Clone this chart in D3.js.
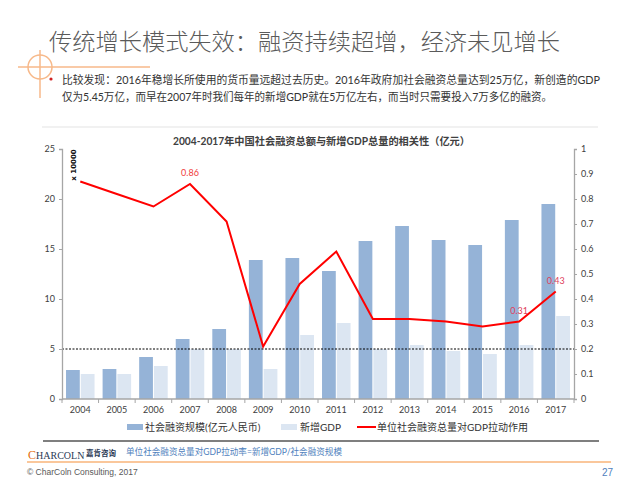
<!DOCTYPE html>
<html>
<head>
<meta charset="utf-8">
<script src="https://cdn.jsdelivr.net/npm/d3@7"></script>
<style>
html,body{margin:0;padding:0;background:#fff;}
svg{display:block;}
</style>
</head>
<body>
<div id="chart"></div>
<script>
// ---- data ----
const years = ["2004","2005","2006","2007","2008","2009","2010","2011","2012","2013","2014","2015","2016","2017"];
const financing = [2.9, 3.0, 4.2, 6.0, 7.0, 13.9, 14.1, 12.8, 15.8, 17.3, 15.9, 15.4, 17.9, 19.5];
const newGDP = [2.5, 2.5, 3.3, 5.0, 5.0, 3.0, 6.4, 7.6, 5.0, 5.4, 4.8, 4.5, 5.4, 8.3];
const ratio = [0.87, 0.82, 0.77, 0.86, 0.71, 0.21, 0.46, 0.59, 0.32, 0.32, 0.31, 0.29, 0.31, 0.43];
const leftTicks = [0, 5, 10, 15, 20, 25];
const rightTicks = [0, 0.1, 0.2, 0.3, 0.4, 0.5, 0.6, 0.7, 0.8, 0.9, 1];
const labelledYears = ["2007", "2016", "2017"];
const refLine = 5;
const seriesNames = ["社会融资规模(亿元人民币)", "新增GDP", "单位社会融资总量对GDP拉动作用"];
const titleText = "传统增长模式失效：融资持续超增，经济未见增长";
const bulletLines = [
  "比较发现：2016年稳增长所使用的货币量远超过去历史。2016年政府加社会融资总量达到25万亿，新创造的GDP",
  "仅为5.45万亿，而早在2007年时我们每年的新增GDP就在5万亿左右，而当时只需要投入7万多亿的融资。"
];
const chartTitle = "2004-2017年中国社会融资总额与新增GDP总量的相关性（亿元）";
const unitLabel = "x 10000";
const formulaText = "单位社会融资总量对GDP拉动率=新增GDP/社会融资规模";

const CJK = "'Noto Sans CJK SC', 'Noto Sans', sans-serif";
const NUM = "Lato, 'Noto Sans CJK SC', sans-serif";

const svg = d3.select("#chart").append("svg").attr("width", 640).attr("height", 480);

// ---- header ----
svg.append("text").attr("x", 49).attr("y", 50)
  .attr("font-family", CJK).attr("font-size", 23).attr("font-weight", 300).attr("fill", "#5a5a5a")
  .attr("textLength", 511).attr("lengthAdjust", "spacingAndGlyphs")
  .text(titleText);

// orange crosshair decoration
const deco = svg.append("g").attr("stroke", "#f7b98a").attr("fill", "none").attr("stroke-width", 1.5);
deco.append("line").attr("x1", 18).attr("x2", 150).attr("y1", 67).attr("y2", 67);
deco.append("line").attr("x1", 40).attr("x2", 40).attr("y1", 50).attr("y2", 98);
deco.append("circle").attr("cx", 40).attr("cy", 67).attr("r", 12);

svg.append("circle").attr("cx", 51).attr("cy", 79).attr("r", 1.6).attr("fill", "#d02020");
const bl = [[80, 538], [97, 490]];
bulletLines.forEach((t, i) => {
  svg.append("text").attr("x", 62).attr("y", bl[i][0]).attr("dy", "0.35em")
    .attr("font-family", NUM).attr("font-size", 11).attr("fill", "#333")
    .attr("textLength", bl[i][1]).attr("lengthAdjust", "spacingAndGlyphs")
    .text(t);
});

// faint chart frame top
svg.append("line").attr("x1", 42).attr("x2", 598).attr("y1", 127).attr("y2", 127)
  .attr("stroke", "#e3e3e3").attr("stroke-width", 1);

svg.append("text").attr("x", 173).attr("y", 141).attr("dy", "0.35em")
  .attr("font-family", NUM).attr("font-size", 10.5).attr("font-weight", "bold").attr("fill", "#404040")
  .attr("textLength", 297).attr("lengthAdjust", "spacingAndGlyphs")
  .text(chartTitle);

// ---- scales ----
const x = d3.scaleBand().domain(years).range([62, 574]).padding(0);
const yL = d3.scaleLinear().domain([0, 25]).range([399, 149]);
const yR = d3.scaleLinear().domain([0, 1]).range([399, 149]);
const bw = x.bandwidth() * 0.39;
const cx = d => x(d) + x.bandwidth() / 2;

// ---- bars ----
svg.append("g").selectAll("rect").data(years).join("rect")
  .attr("x", (d) => cx(d) - bw).attr("width", bw - 0.5)
  .attr("y", (d, i) => yL(financing[i])).attr("height", (d, i) => yL(0) - yL(financing[i]))
  .attr("fill", "#95b3d7");
svg.append("g").selectAll("rect").data(years).join("rect")
  .attr("x", (d) => cx(d) + 0.5).attr("width", bw - 0.5)
  .attr("y", (d, i) => yL(newGDP[i])).attr("height", (d, i) => yL(0) - yL(newGDP[i]))
  .attr("fill", "#dce6f2");

// reference dotted line
svg.append("line").attr("x1", 62).attr("x2", 574).attr("y1", yL(refLine)).attr("y2", yL(refLine))
  .attr("stroke", "#000").attr("stroke-width", 1).attr("stroke-dasharray", "2,1.5");

// ---- line ----
const line = d3.line().x((d, i) => cx(years[i])).y(d => yR(d));
svg.append("path").datum(ratio).attr("d", line)
  .attr("fill", "none").attr("stroke", "#ff0000").attr("stroke-width", 2).attr("stroke-linejoin", "miter");

// data labels
labelledYears.forEach(yr => {
  const i = years.indexOf(yr);
  svg.append("text").attr("x", cx(yr)).attr("y", yR(ratio[i]) - 11).attr("dy", "0.35em")
    .attr("text-anchor", "middle").attr("font-family", NUM).attr("font-size", 9)
    .attr("fill", yr === "2007" ? "#f03c3c" : "#e0405c")
    .text(d3.format(".2f")(ratio[i]));
});

// ---- axes ----
const gL = svg.append("g").attr("transform", "translate(62,0)")
  .call(d3.axisLeft(yL).tickValues(leftTicks).tickSize(3).tickPadding(4));
const gR = svg.append("g").attr("transform", "translate(574,0)")
  .call(d3.axisRight(yR).tickValues(rightTicks).tickSize(3).tickPadding(4)
    .tickFormat(d => (d === 0 || d === 1) ? String(d) : d3.format(".1f")(d)));
const gB = svg.append("g").attr("transform", "translate(0,399)")
  .call(d3.axisBottom(x).tickSize(0).tickPadding(8));
[gL, gR, gB].forEach(g => {
  g.selectAll("path.domain").attr("stroke", "#a6a6a6").attr("stroke-width", 1.3);
  g.selectAll(".tick line").attr("stroke", "#a6a6a6");
  g.selectAll("text").attr("font-family", NUM).attr("font-size", 9).attr("fill", "#404040");
});
gB.select("path.domain").attr("d", "M62,0H574");
// category boundary ticks
svg.append("g").selectAll("line").data(years.concat(["end"])).join("line")
  .attr("x1", (d, i) => 62 + i * x.bandwidth()).attr("x2", (d, i) => 62 + i * x.bandwidth())
  .attr("y1", 399).attr("y2", 403).attr("stroke", "#a6a6a6");

// unit label
svg.append("text").attr("transform", "translate(76,165) rotate(-90)")
  .attr("text-anchor", "middle").attr("font-family", "'DejaVu Sans', sans-serif")
  .attr("font-size", 7).attr("font-weight", "bold").attr("fill", "#111")
  .text(unitLabel);

// ---- legend ----
const lg = svg.append("g").attr("font-family", NUM).attr("font-size", 10).attr("fill", "#333");
lg.append("rect").attr("x", 127).attr("y", 424).attr("width", 16).attr("height", 6).attr("fill", "#95b3d7");
lg.append("text").attr("x", 145).attr("y", 427).attr("dy", "0.35em").text(seriesNames[0]);
lg.append("rect").attr("x", 281).attr("y", 424).attr("width", 16).attr("height", 6).attr("fill", "#dce6f2");
lg.append("text").attr("x", 300).attr("y", 427).attr("dy", "0.35em").text(seriesNames[1]);
lg.append("line").attr("x1", 357).attr("x2", 376).attr("y1", 427).attr("y2", 427).attr("stroke", "#ff0000").attr("stroke-width", 2);
lg.append("text").attr("x", 377).attr("y", 427).attr("dy", "0.35em").text(seriesNames[2]);

// ---- footer ----
svg.append("line").attr("x1", 43).attr("x2", 599).attr("y1", 441).attr("y2", 441)
  .attr("stroke", "#7f7f7f").attr("stroke-width", 2);
const logo = svg.append("text").attr("x", 28).attr("y", 453).attr("dy", "0.35em")
  .attr("font-family", "'Liberation Serif', serif");
logo.append("tspan").attr("font-size", 12).attr("fill", "#e46c0a").text("C");
logo.append("tspan").attr("font-size", 10).attr("fill", "#2b3a55").text("HARCOLN");
svg.append("text").attr("x", 86).attr("y", 453).attr("dy", "0.35em")
  .attr("font-family", CJK).attr("font-size", 7.5).attr("font-weight", "bold").attr("fill", "#2b3a55")
  .text("嘉肯咨询");
svg.append("text").attr("x", 126).attr("y", 452).attr("dy", "0.35em")
  .attr("font-family", NUM).attr("font-size", 9).attr("fill", "#4f81bd")
  .attr("textLength", 216).attr("lengthAdjust", "spacingAndGlyphs")
  .text(formulaText);
svg.append("line").attr("x1", 27).attr("x2", 611).attr("y1", 462).attr("y2", 462)
  .attr("stroke", "#f9b47a").attr("stroke-width", 1.5);
svg.append("text").attr("x", 27).attr("y", 472).attr("dy", "0.35em")
  .attr("font-family", "'Liberation Sans', Arial, sans-serif").attr("font-size", 8.5).attr("fill", "#595959")
  .text("© CharColn Consulting, 2017");
svg.append("text").attr("x", 613).attr("y", 472).attr("dy", "0.35em").attr("text-anchor", "end")
  .attr("font-family", "'Liberation Sans', Arial, sans-serif").attr("font-size", 10).attr("fill", "#4f81bd")
  .text("27");
</script>
</body>
</html>
